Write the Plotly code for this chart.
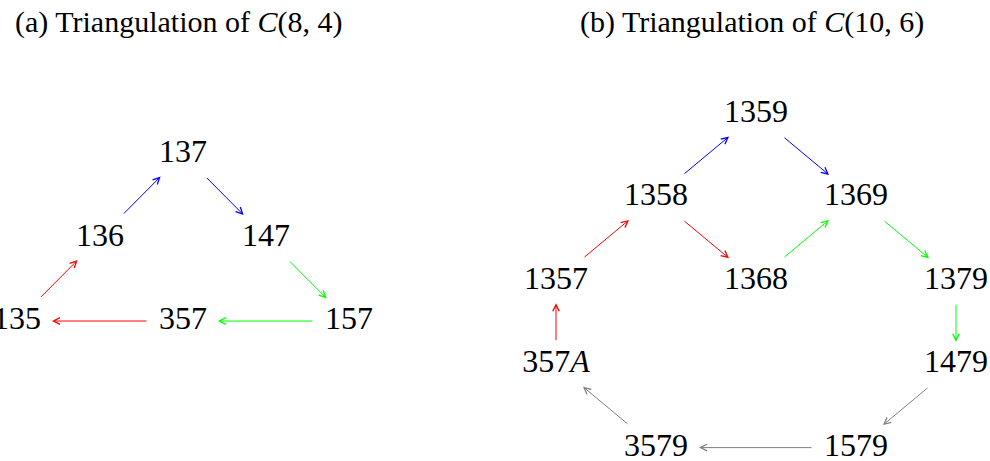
import plotly.graph_objects as go

# ---------------- data ----------------
# panel (a): nodes on a grid (column, row)
a_labels = ["137", "136", "147", "135", "357", "157"]
a_cols = [2, 1, 3, 0, 2, 4]
a_rows = [0, 1, 1, 2, 2, 2]
a_edges = [("136", "137", "blue"), ("137", "147", "blue"),
           ("147", "157", "green"), ("157", "357", "green"),
           ("357", "135", "red"), ("135", "136", "red")]

# panel (b)
b_labels = ["1359", "1358", "1369", "1357", "1368", "1379", "357A", "1479", "3579", "1579"]
b_text = ["1359", "1358", "1369", "1357", "1368", "1379", "357<i>A</i>", "1479", "3579", "1579"]
b_cols = [2, 1, 3, 0, 2, 4, 0, 4, 1, 3]
b_rows = [0, 1, 1, 2, 2, 2, 3, 3, 4, 4]
b_edges = [("1358", "1359", "blue"), ("1359", "1369", "blue"),
           ("1357", "1358", "red"), ("1358", "1368", "red"),
           ("1368", "1369", "green"), ("1369", "1379", "green"),
           ("1379", "1479", "green"), ("357A", "1357", "red"),
           ("1479", "1579", "gray"), ("1579", "3579", "gray"),
           ("3579", "357A", "gray")]

titles = ["(a) Triangulation of <i>C</i>(8, 4)", "(b) Triangulation of <i>C</i>(10, 6)"]

# ---------------- layout ----------------
W, H = 990, 461
COLORS = {"blue": "#0000ff", "red": "#ff0000", "green": "#00ff00", "gray": "#808080"}
FONT = "Liberation Serif"

panels = [
    dict(labels=a_labels, text=a_labels, cols=a_cols, rows=a_rows, edges=a_edges,
         x0=17, ux=83, y0=154, uy=83.5, hw=35, xa="x", ya="y"),
    dict(labels=b_labels, text=b_text, cols=b_cols, rows=b_rows, edges=b_edges,
         x0=556, ux=100, y0=114, uy=83.4, hw=43, xa="x2", ya="y2"),
]
HH = 22.5

fig = go.Figure()
annotations = []
for p in panels:
    fig.add_trace(go.Scatter(
        x=p["cols"], y=p["rows"], text=p["text"], mode="text",
        textposition="middle center", cliponaxis=False,
        textfont=dict(family=FONT, size=32, color="black"),
        xaxis=p["xa"], yaxis=p["ya"], hoverinfo="skip", showlegend=False))
    pos = {l: (c, r) for l, c, r in zip(p["labels"], p["cols"], p["rows"])}

    def to_px(c, r, p=p):
        return p["x0"] + p["ux"] * c, p["y0"] + p["uy"] * r

    def to_data(px, py, p=p):
        return (px - p["x0"]) / p["ux"], (py - p["y0"]) / p["uy"]

    for s, t, col in p["edges"]:
        sx, sy = to_px(*pos[s])
        tx, ty = to_px(*pos[t])
        dx, dy = tx - sx, ty - sy
        # clip to node rectangles
        k = min(p["hw"] / abs(dx) if dx else 1e9, HH / abs(dy) if dy else 1e9)
        ax_, ay_ = to_data(sx + dx * k, sy + dy * k)
        hx, hy = to_data(tx - dx * k, ty - dy * k)
        annotations.append(dict(
            x=hx, y=hy, ax=ax_, ay=ay_, xref=p["xa"], yref=p["ya"],
            axref=p["xa"], ayref=p["ya"], showarrow=True, arrowhead=5,
            arrowsize=1.3, arrowwidth=1, arrowcolor=COLORS[col], text="",
            standoff=0, startstandoff=0))

for t, cx in zip(titles, [178, 752]):
    annotations.append(dict(
        x=cx / W, y=1 - 22 / H, xref="paper", yref="paper", text=t,
        showarrow=False, xanchor="center", yanchor="middle",
        font=dict(family=FONT, size=30, color="black")))

def axis_x(p):
    return dict(range=[-p["x0"] / p["ux"], (W - p["x0"]) / p["ux"]], visible=False,
                domain=[0, 1], fixedrange=True)

def axis_y(p):
    return dict(range=[(H - p["y0"]) / p["uy"], -p["y0"] / p["uy"]], visible=False,
                domain=[0, 1], fixedrange=True)

fig.update_layout(
    width=W, height=H, margin=dict(l=0, r=0, t=0, b=0),
    paper_bgcolor="white", plot_bgcolor="white",
    xaxis=axis_x(panels[0]), yaxis=axis_y(panels[0]),
    xaxis2=dict(axis_x(panels[1]), overlaying="x"),
    yaxis2=dict(axis_y(panels[1]), overlaying="y"),
    annotations=annotations, showlegend=False,
)

fig.write_html("out.html", post_script="document.body.style.margin='0';",
               config={"displayModeBar": False})
